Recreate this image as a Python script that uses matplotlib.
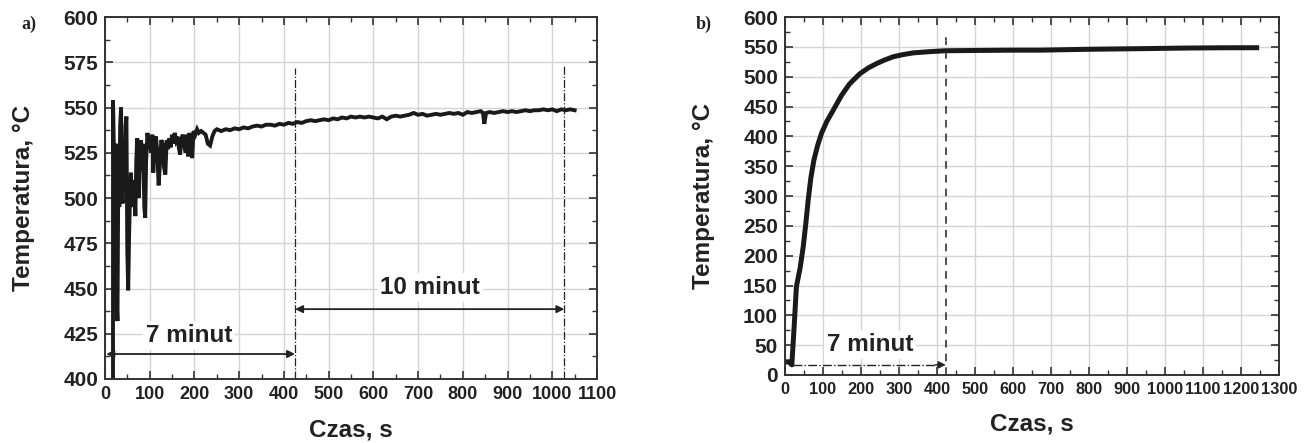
import matplotlib
matplotlib.use("Agg")
import matplotlib.pyplot as plt
from matplotlib.ticker import MultipleLocator

plt.rcParams['font.family'] = ['Liberation Sans', 'DejaVu Sans']
plt.rcParams['font.weight'] = 'bold'

# ---------------- data (a) ----------------
time_a = [18, 18, 22, 24, 26, 28, 30, 32, 34, 36, 38, 40, 42, 44, 46, 48, 50, 52, 54, 56,
          58, 60, 62, 64, 66, 68, 70, 72, 74, 76, 78, 80, 82, 84, 86, 88, 90, 92, 95, 98,
          100, 103, 106, 108, 111, 114, 117, 120, 123, 126, 129, 132, 135, 138, 141, 144,
          147, 150, 153, 156, 159, 162, 165, 168, 171, 174, 177, 180, 183, 186, 189, 192,
          195, 198, 202, 206, 210, 215, 220, 225, 230, 235, 240, 245, 250, 260, 270, 280,
          290, 300, 310, 320, 330, 340, 350, 360, 370, 380, 390, 400, 410, 420, 430, 440,
          450, 460, 470, 480, 490, 500, 510, 520, 530, 540, 550, 560, 570, 580, 590, 600,
          610, 620, 630, 640, 650, 660, 670, 680, 690, 700, 710, 720, 730, 740, 750, 760,
          770, 780, 790, 800, 810, 820, 830, 840, 845, 848, 852, 860, 870, 880, 890, 900,
          910, 920, 930, 940, 950, 960, 970, 980, 990, 1000, 1010, 1020, 1030, 1040, 1050]
temp_a = [400, 554, 500, 530, 445, 432, 520, 495, 540, 550, 500, 497, 530, 510, 540, 545,
          470, 449, 480, 500, 514, 495, 510, 499, 505, 490, 520, 533, 530, 500, 525, 532,
          515, 530, 520, 495, 489, 520, 536, 528, 533, 525, 535, 514, 530, 534, 525, 507,
          520, 532, 530, 517, 513, 532, 527, 533, 528, 535, 530, 536, 532, 534, 528, 524,
          533, 535, 530, 525, 535, 523, 536, 529, 522, 537, 535, 538, 536, 537, 536, 535,
          530, 529, 534, 537, 538, 537, 538, 537.5, 538.5, 538, 539, 538.5, 539.5, 540,
          539.5, 540.5, 540.5, 540, 541, 540.5, 541.5, 541, 542, 541.5, 542.5, 543, 542.5,
          543, 543.5, 543, 544, 543.5, 544.5, 544, 545, 544.5, 545, 544.5, 545, 544.5, 544,
          545, 543.5, 545, 545.5, 545, 545.5, 546, 547, 546, 546.5, 545.5, 546, 546.5, 546,
          546.5, 547, 546.5, 547, 546, 547.5, 547, 547.5, 548, 547, 541, 547, 547.5, 547,
          547.5, 548, 547.5, 548, 547.5, 548, 548.5, 548, 548.5, 548.5, 549, 548.5, 549,
          548, 549, 548.5, 549, 548.5]

# ---------------- data (b) ----------------
time_b = [0, 10, 18, 24, 30, 40, 48, 55, 61, 68, 76, 86, 96, 110, 127, 149, 170, 197,
          220, 241, 262, 285, 310, 338, 380, 421, 500, 600, 671, 800, 934, 1050, 1150, 1241]
temp_b = [22, 22, 17, 80, 148, 180, 215, 255, 293, 330, 360, 385, 405, 425, 444, 469,
          488, 505, 515, 522, 528, 533.5, 537, 540, 542, 543.5, 544, 544.5, 544.5, 546,
          547, 548, 548.5, 548.6]

xticks_a = list(range(0, 1101, 100))
yticks_a = list(range(400, 601, 25))
xticks_b = list(range(0, 1301, 100))
yticks_b = list(range(0, 601, 50))

x_label = "Czas, s"
y_label = "Temperatura, °C"
label_7 = "7 minut"
label_10 = "10 minut"

fig = plt.figure(figsize=(13.07, 4.43), dpi=100)
ax1 = fig.add_axes([0.0803, 0.1445, 0.3765, 0.817])
ax2 = fig.add_axes([0.6006, 0.1535, 0.378, 0.808])

def style(ax, xt, yt, xminor, yminor, xfs, yfs, ylpad):
    ax.set_xticks(xt)
    ax.set_yticks(yt)
    ax.xaxis.set_minor_locator(MultipleLocator(xminor))
    ax.yaxis.set_minor_locator(MultipleLocator(yminor))
    ax.tick_params(which='both', direction='in', top=True, right=True, colors='#333333')
    ax.tick_params(which='major', length=6, width=1.2)
    ax.tick_params(which='minor', length=3.5, width=1.0)
    ax.tick_params(axis='x', labelsize=xfs, labelcolor='#222222', pad=5)
    ax.tick_params(axis='y', labelsize=yfs, labelcolor='#222222', pad=5)
    for lab in ax.get_xticklabels() + ax.get_yticklabels():
        lab.set_fontweight('bold')
    ax.grid(True, which='major', color='#d4d4d4', lw=1.0)
    ax.set_axisbelow(True)
    for s in ax.spines.values():
        s.set_color('#333333')
        s.set_linewidth(1.4)
    ax.set_xlabel(x_label, fontsize=17.5, fontweight='bold', color='#222222', labelpad=11)
    ax.set_ylabel(y_label, fontsize=17.5, fontweight='bold', color='#222222', labelpad=ylpad)

# ---- panel a ----
ax1.plot(time_a, temp_a, color='#1a1a1a', lw=2.8, solid_joinstyle='miter')
ax1.set_xlim(0, 1100)
ax1.set_ylim(400, 600)
style(ax1, xticks_a, yticks_a, 50, 12.5, 13, 15, 20)
ax1.plot([425, 425], [400, 572], color='#222222', lw=0.9, ls='-.')
ax1.plot([1027, 1027], [400, 573], color='#222222', lw=0.9, ls='-.')
ax1.annotate('', xy=(425, 413.8), xytext=(3, 413.8),
             arrowprops=dict(arrowstyle='<|-|>', color='#222222', lw=1.3, mutation_scale=11,
                             shrinkA=0, shrinkB=0))
ax1.annotate('', xy=(1027, 438.6), xytext=(425, 438.6),
             arrowprops=dict(arrowstyle='<|-|>', color='#222222', lw=1.3, mutation_scale=11,
                             shrinkA=0, shrinkB=0))
ax1.text(188, 424, label_7, fontsize=17.5, fontweight='bold', ha='center', va='center',
         color='#222222', bbox=dict(facecolor='white', edgecolor='none', pad=2))
ax1.text(727, 450.5, label_10, fontsize=17.5, fontweight='bold', ha='center', va='center',
         color='#222222', bbox=dict(facecolor='white', edgecolor='none', pad=2))

# ---- panel b ----
ax2.plot(time_b, temp_b, color='#1a1a1a', lw=3.6, solid_joinstyle='round')
ax2.set_xlim(0, 1300)
ax2.set_ylim(0, 600)
style(ax2, xticks_b, yticks_b, 50, 25, 11.8, 15, 20)
ax2.plot([423, 423], [0, 560], color='#222222', lw=1.1, ls=(0, (5, 4)))
ax2.plot([423, 423], [562, 565], color='#222222', lw=1.1)
ax2.plot([20, 405], [17, 17], color='#222222', lw=1.0, ls='-.')
ax2.annotate('', xy=(423, 17), xytext=(395, 17),
             arrowprops=dict(arrowstyle='-|>', color='#222222', lw=1.0, mutation_scale=11,
                             shrinkA=0, shrinkB=0))
ax2.text(224, 51, label_7, fontsize=17.5, fontweight='bold', ha='center', va='center',
         color='#222222', bbox=dict(facecolor='white', edgecolor='none', pad=2))

fig.text(0.016, 0.945, "a)", fontsize=13, fontweight='bold', family='Liberation Serif',
         color='#222222', va='center')
fig.text(0.532, 0.945, "b)", fontsize=13, fontweight='bold', family='Liberation Serif',
         color='#222222', va='center')

fig.savefig("out.png", dpi=100)
